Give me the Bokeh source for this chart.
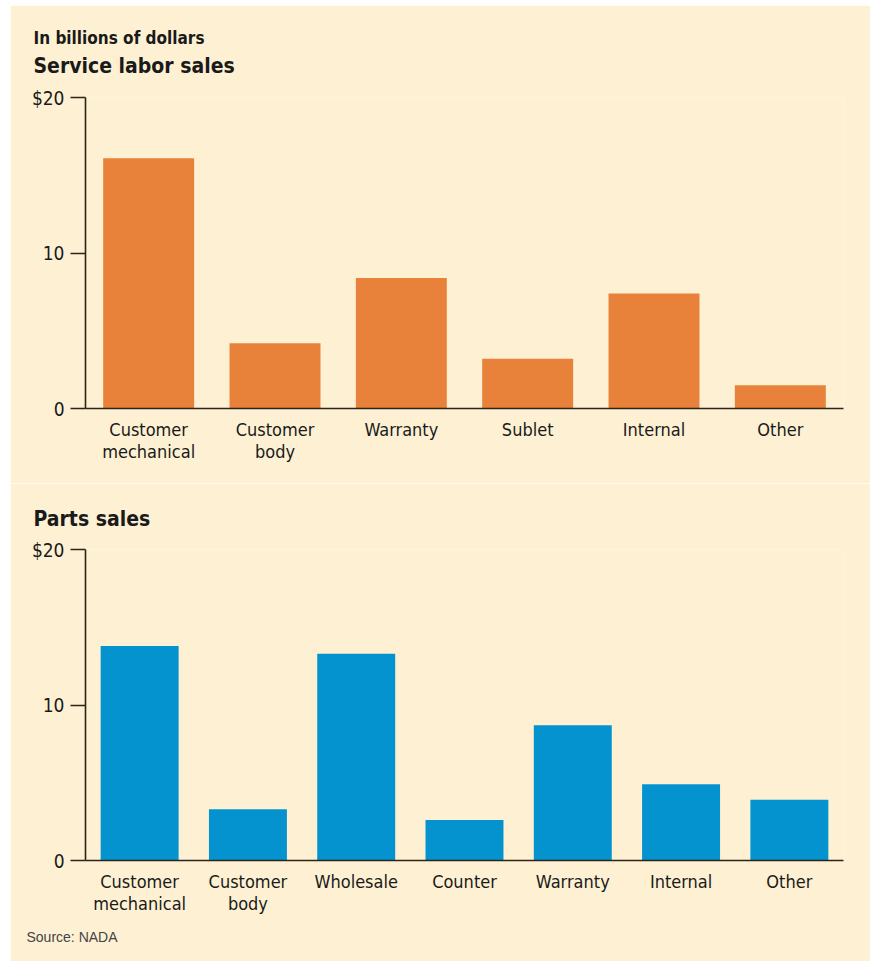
from bokeh.plotting import figure
from bokeh.layouts import column
from bokeh.models import Range1d, FixedTicker, ColumnDataSource, LinearAxis, Title
from bokeh.embed import file_html
from bokeh.resources import INLINE

# ---- data ----
labor_cats = ["Customer mechanical", "Customer body", "Warranty", "Sublet", "Internal", "Other"]
labor_vals = [16.1, 4.2, 8.4, 3.2, 7.4, 1.5]
labor_line1 = ["Customer", "Customer", "Warranty", "Sublet", "Internal", "Other"]
labor_line2 = ["mechanical", "body", "", "", "", ""]

parts_cats = ["Customer mechanical", "Customer body", "Wholesale", "Counter", "Warranty", "Internal", "Other"]
parts_vals = [13.8, 3.3, 13.3, 2.6, 8.7, 4.9, 3.9]
parts_line1 = ["Customer", "Customer", "Wholesale", "Counter", "Warranty", "Internal", "Other"]
parts_line2 = ["mechanical", "body", "", "", "", "", ""]

y_ticks = [0, 10, 20]
y_tick_labels = ["0", "10", "$20"]

BG = "#FEF1D3"
ORANGE = "#E8813A"
BLUE = "#0493CF"
AXIS = "#2B2519"
TXT = "#1A1A1A"
FONT = "'DejaVu Sans Condensed', 'Roboto Condensed', 'Liberation Sans Narrow', Roboto"


def style_xaxis(ax, idx, labels, standoff):
    ax.ticker = FixedTicker(ticks=idx)
    ax.major_label_overrides = {i: l for i, l in zip(idx, labels)}
    ax.major_tick_line_color = None
    ax.major_tick_out = 0
    ax.major_tick_in = 0
    ax.minor_tick_line_color = None
    ax.minor_tick_out = 0
    ax.major_label_text_font = FONT
    ax.major_label_text_font_size = "18px"
    ax.major_label_text_color = TXT
    ax.major_label_standoff = standoff


def make_chart(cats, vals, line1, line2, color, height, top, bottom):
    n = len(cats)
    idx = list(range(n))
    p = figure(x_range=Range1d(-0.5, n - 0.5), y_range=Range1d(0, 20), width=860, height=height,
               output_backend="svg", toolbar_location=None,
               min_border_left=75, min_border_right=27,
               min_border_top=top, min_border_bottom=bottom)
    p.background_fill_color = BG
    p.border_fill_color = BG
    p.outline_line_color = None
    p.grid.visible = False
    src = ColumnDataSource(dict(x=idx, top=vals, name=cats))
    p.vbar(x="x", top="top", width=0.72, bottom=0, source=src, color=color, line_color=None)

    style_xaxis(p.xaxis[0], idx, line1, 10)
    p.xaxis[0].axis_line_color = AXIS
    p.xaxis[0].axis_line_width = 1.6

    ax2 = LinearAxis()
    style_xaxis(ax2, idx, line2, -2)
    ax2.axis_line_color = None
    p.add_layout(ax2, "below")

    p.yaxis.ticker = FixedTicker(ticks=y_ticks)
    p.yaxis.major_label_overrides = {t: l for t, l in zip(y_ticks, y_tick_labels)}
    p.yaxis.axis_line_color = AXIS
    p.yaxis.axis_line_width = 1.6
    p.yaxis.major_tick_line_color = AXIS
    p.yaxis.major_tick_line_width = 1.5
    p.yaxis.major_tick_out = 15
    p.yaxis.major_tick_in = 0
    p.yaxis.minor_tick_line_color = None
    p.yaxis.major_label_text_font = FONT
    p.yaxis.major_label_text_font_size = "19px"
    p.yaxis.major_label_text_color = TXT
    p.yaxis.major_label_standoff = 6
    return p


def title(text, size, offset, standoff, bold=True, font=FONT, color=TXT):
    return Title(text=text, align="left", offset=offset, standoff=standoff,
                 text_font=font, text_font_size=size,
                 text_font_style="bold" if bold else "normal", text_color=color)


p1 = make_chart(labor_cats, labor_vals, labor_line1, labor_line2, ORANGE, 478, 92, 75)
p1.add_layout(title("Service labor sales", "21px", -52, 39), "above")
p1.add_layout(title("In billions of dollars", "17px", -52, -30), "above")

p2 = make_chart(parts_cats, parts_vals, parts_line1, parts_line2, BLUE, 478, 66, 101)
p2.add_layout(title("Parts sales", "21px", -52, 37), "above")
p2.add_layout(title("Source: NADA", "14px", -59, 21, bold=False,
                    font="Liberation Sans", color="#444444"), "below")

layout = column(p1, p2, spacing=0, margin=(5, 0, 0, 10))
open("out.html", "w").write(file_html(layout, INLINE))
